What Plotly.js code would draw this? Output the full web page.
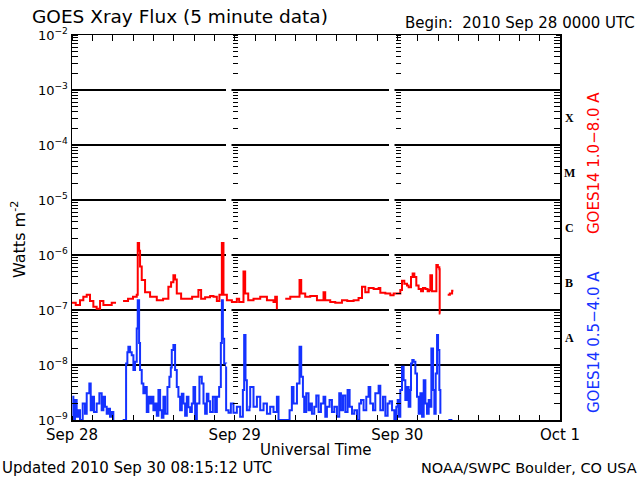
<!DOCTYPE html>
<html>
<head>
<meta charset="utf-8">
<script src="https://cdn.plot.ly/plotly-3.0.1.min.js"></script>
<style>html,body{margin:0;padding:0;background:#fff;}#chart{width:640px;height:480px;}</style>
</head>
<body>
<div id="chart"></div>
<script>
// Hours since 2010 Sep 28 00:00 UTC
const redHours = [0,0.55,1.18,1.67,2.17,2.66,3.15,3.64,4.14,4.63,5.12,5.86,6.35,6.6,
  7.53,8.27,9.0,9.55,9.7,9.9,10.04,10.29,10.78,11.52,12.51,13.44,14.22,14.62,14.96,15.21,15.46,16.1,16.94,17.72,18.65,19.05,19.64,20.38,20.87,21.37,21.75,22.11,22.35,22.85,23.59,24.32,24.66,25.3,25.55,26.0,26.78,27.77,28.76,29.73,29.98,30.23,30.6,
  31.46,32.2,33.19,33.57,33.82,34.41,35.15,36.14,36.78,37.11,37.36,38.1,38.84,39.83,40.61,41.55,42.28,42.79,43.27,43.76,44.5,45.24,45.49,46.23,46.97,47.45,47.95,48.44,48.69,49.03,49.43,49.67,50.02,50.26,50.51,50.8,51.14,51.5,51.79,52.13,52.47,52.73,52.87,53.12,53.46,53.76,53.98,54.2,54.25,54.35,55.0,
  55.43,55.75,56.08,56.27];
const redFlux = [1.35e-7,1.23e-7,1.5e-7,1.75e-7,1.9e-7,1.45e-7,1.15e-7,1.05e-7,1.45e-7,1.23e-7,1.23e-7,1.35e-7,1.3e-7,null,
  1.45e-7,1.6e-7,1.75e-7,1.9e-7,1.65e-6,1.2e-6,6.2e-7,3.5e-7,2.1e-7,1.75e-7,1.5e-7,1.6e-7,2.65e-7,3.2e-7,4.3e-7,3.6e-7,2.0e-7,1.6e-7,1.6e-7,1.75e-7,2.3e-7,1.6e-7,1.7e-7,1.8e-7,1.75e-7,1.45e-7,1.9e-7,1.65e-6,1.9e-7,1.5e-7,1.4e-7,1.6e-7,1.4e-7,5.0e-7,2.0e-7,1.5e-7,1.6e-7,1.75e-7,1.5e-7,1.4e-7,1.75e-7,1.03e-7,null,
  1.6e-7,1.75e-7,1.75e-7,3.5e-7,2.0e-7,1.75e-7,1.8e-7,1.5e-7,1.5e-7,2.1e-7,1.5e-7,1.4e-7,1.35e-7,1.5e-7,1.45e-7,1.5e-7,1.65e-7,2.65e-7,2.1e-7,2.5e-7,2.4e-7,2.5e-7,2.05e-7,2.0e-7,1.85e-7,2.0e-7,2.0e-7,2.3e-7,3.4e-7,3.0e-7,2.8e-7,2.6e-7,4.0e-7,4.6e-7,4.0e-7,2.8e-7,2.4e-7,2.2e-7,2.5e-7,2.4e-7,2.2e-7,2.3e-7,4.3e-7,2.2e-7,2.2e-7,6.6e-7,6.0e-7,5.5e-7,8.6e-8,8.6e-8,null,
  1.9e-7,2.0e-7,2.25e-7,2.25e-7];

const blueHours = [0.05,0.2,0.44,0.69,0.94,1.18,1.58,1.92,2.17,2.56,2.76,3.05,3.25,3.64,4.04,4.38,4.63,4.87,5.12,5.37,5.61,5.86,6.1,6.4,
  7.48,7.88,7.98,8.17,8.32,8.57,8.81,9.06,9.3,9.55,9.7,9.9,10.04,10.29,10.53,10.78,11.03,11.27,11.52,11.77,12.01,12.26,12.51,12.75,13.0,13.25,13.49,13.74,14.08,14.37,14.58,14.72,14.96,15.21,15.46,15.7,15.95,16.2,16.44,16.69,16.94,17.18,17.43,17.68,17.92,18.17,18.42,18.8,19.15,19.4,19.64,19.89,20.13,20.38,20.78,21.12,21.37,21.71,21.96,22.11,22.26,
  22.45,22.74,23.09,23.44,23.82,24.32,24.81,25.21,25.4,25.6,25.8,26.19,26.29,26.78,27.28,27.77,28.26,28.76,29.24,29.73,30.23,30.47,31.46,32.1,32.44,32.68,33.19,33.57,
  33.82,34.07,34.26,34.56,34.9,35.15,35.4,35.74,36.04,36.38,36.73,37.11,37.37,37.61,38.0,38.35,38.7,39.09,39.43,39.68,39.98,40.32,40.66,40.96,41.31,41.65,42.05,42.39,42.64,43.02,43.42,43.76,44.01,44.41,44.75,45.24,45.49,45.89,46.23,46.57,46.86,47.22,47.56,47.85,
  48.05,48.2,48.44,48.69,48.93,49.18,49.43,49.67,49.92,50.02,50.21,50.41,50.66,50.9,51.15,51.4,51.65,51.89,52.14,52.38,52.63,52.87,53.02,53.27,53.46,53.66,53.86,54.01,54.2,54.35,55.0,
  55.53,56.12];
const blueFlux = [2.65e-9,1e-9,2.3e-9,1.15e-9,1.5e-9,1e-9,2.0e-9,1.3e-9,3.05e-9,4.6e-9,1.5e-9,2.65e-9,1.4e-9,2.0e-9,3.05e-9,1.5e-9,2.65e-9,1.75e-9,1.3e-9,1.6e-9,1.15e-9,1.4e-9,1e-9,null,
  1e-9,1e-9,1.07e-8,1.7e-8,2.15e-8,1.7e-8,1.5e-8,8.1e-9,1.15e-8,4.6e-8,1.5e-7,2.5e-8,8.1e-9,4.6e-9,3.05e-9,4.0e-9,1.4e-9,2.65e-9,2.0e-9,2.65e-9,1.5e-9,2.0e-9,1.2e-9,3.5e-9,1.5e-9,1.1e-9,2.65e-9,1.3e-9,4.0e-9,6.1e-9,9e-9,1.87e-8,2.3e-8,8.1e-9,4.0e-9,2.65e-9,1.5e-9,3.0e-9,2.0e-9,1.2e-9,2.65e-9,1.7e-9,1.4e-9,2.0e-9,4.0e-9,1e-9,2.0e-9,6.1e-9,4.6e-9,2.0e-9,1.3e-9,3.0e-9,2.2e-9,1.4e-9,2.65e-9,1.4e-9,2.65e-9,4.0e-9,2.5e-8,1.5e-7,3e-8,
  1.07e-8,1.5e-9,1.35e-9,2.0e-9,1.35e-9,1.75e-9,1.15e-9,3.5e-9,3.5e-8,5.3e-9,1.5e-9,1.75e-9,4.0e-9,1.75e-9,2.65e-9,1.5e-9,2.0e-9,1.3e-9,1.75e-9,1.4e-9,2.65e-9,1e-9,1e-9,1.5e-9,4.0e-9,2.0e-9,4.6e-9,2.15e-8,
  6.1e-9,2.65e-9,1.4e-9,3.05e-9,1.5e-9,2.0e-9,1.3e-9,1.75e-9,2.8e-9,1.4e-9,2.0e-9,2.65e-9,1.15e-9,1.75e-9,2.3e-9,1.4e-9,1.75e-9,1.15e-9,3.05e-9,1.5e-9,2.8e-9,1.4e-9,3.5e-9,1.75e-9,1.3e-9,1.5e-9,1e-9,2.0e-9,2.3e-9,1.5e-9,2.65e-9,4.0e-9,2.0e-9,1.5e-9,3.05e-9,4.2e-9,1.5e-9,2.65e-9,1.2e-9,2.0e-9,2.2e-9,1.5e-9,1e-9,1.75e-9,
  2.3e-9,1.15e-9,3.5e-9,9.3e-9,5.3e-9,2.3e-9,4.0e-9,1.75e-9,3.5e-9,1.07e-8,1.23e-8,1.15e-8,7.0e-9,2.65e-9,1.3e-9,3.05e-9,1.15e-9,5.3e-9,2.0e-9,1.3e-9,2.3e-9,1.75e-9,2.0e-8,3.5e-9,1.3e-9,7.0e-9,3.5e-8,1.87e-8,3.5e-9,1.3e-9,null,
  1e-9,1e-9];

const dayTickHours = [0, 24, 48, 72];
const dayTickLabels = ['Sep 28', 'Sep 29', 'Sep 30', 'Oct 1'];
const decadeTicks = [1e-9, 1e-8, 1e-7, 1e-6, 1e-5, 1e-4, 1e-3, 1e-2];
const decadeLabels = ['10<sup>\u22129</sup>', '10<sup>\u22128</sup>', '10<sup>\u22127</sup>', '10<sup>\u22126</sup>', '10<sup>\u22125</sup>', '10<sup>\u22124</sup>', '10<sup>\u22123</sup>', '10<sup>\u22122</sup>'];
const flareClasses = ['X', 'M', 'C', 'B', 'A'];
const flareClassLogCenters = [-3.5, -4.5, -5.5, -6.5, -7.5];

// axis tick positions (not data): 2..9 within each decade, and 3-hour steps
const minorLogTicks = [];
decadeTicks.slice(0, -1).forEach(d => { for (let m = 2; m <= 9; m++) minorLogTicks.push(m * d); });
const minorHourTicks = [];
for (let h = 3; h < 72; h += 3) if (h % 24) minorHourTicks.push(h);

const FONT = 'DejaVu Sans, Liberation Sans, sans-serif';
const L = 72, R = 560, T = 35, B = 420;
const px = x => (x - L) / (R - L);
const py = y => (B - y) / (B - T);

const traces = [
  {x: blueHours, y: blueFlux, type: 'scatter', mode: 'lines', line: {color: '#1432ff', width: 2, shape: 'hv'}},
  {x: redHours, y: redFlux, type: 'scatter', mode: 'lines', line: {color: '#ff0000', width: 2, shape: 'hv'}}
];

// tick-only overlay axes, placed inside the frame with their ticks reaching back to it
function logTickAxis(pos, side, len) {
  return {
    type: 'log', range: [-9, -2], overlaying: 'y', anchor: 'free', position: pos, side: side,
    showline: false, showgrid: false, zeroline: false, showticklabels: false,
    tickmode: 'array', tickvals: decadeTicks,
    ticks: 'outside', ticklen: len, tickcolor: 'black', tickwidth: 1,
    minor: {tickmode: 'array', tickvals: minorLogTicks, ticks: 'outside', ticklen: len, tickcolor: 'black', tickwidth: 1, showgrid: false}
  };
}
function timeTickAxis(pos, side, len) {
  return {
    type: 'linear', range: [0, 72], overlaying: 'x', anchor: 'free', position: pos, side: side,
    showline: false, showgrid: false, zeroline: false, showticklabels: false,
    tickmode: 'array', tickvals: dayTickHours,
    ticks: 'outside', ticklen: len, tickcolor: 'black', tickwidth: 1,
    minor: {tickmode: 'array', tickvals: minorHourTicks, ticks: 'outside', ticklen: len, tickcolor: 'black', tickwidth: 1, showgrid: false}
  };
}

const annotations = [
  {text: 'GOES Xray Flux (5 minute data)', xref: 'paper', yref: 'paper', x: px(30), y: py(16), xanchor: 'left', yanchor: 'middle', showarrow: false, font: {family: FONT, size: 18.5, color: '#000'}},
  {text: 'Begin:  2010 Sep 28 0000 UTC', xref: 'paper', yref: 'paper', x: px(637), y: py(23), xanchor: 'right', yanchor: 'middle', showarrow: false, font: {family: FONT, size: 15, color: '#000'}},
  {text: 'Universal Time', xref: 'paper', yref: 'paper', x: px(316), y: py(450), xanchor: 'center', yanchor: 'middle', showarrow: false, font: {family: FONT, size: 15, color: '#000'}},
  {text: 'Updated 2010 Sep 30 08:15:12 UTC', xref: 'paper', yref: 'paper', x: px(0), y: py(468), xanchor: 'left', yanchor: 'middle', showarrow: false, font: {family: FONT, size: 15, color: '#000'}},
  {text: 'NOAA/SWPC Boulder, CO USA', xref: 'paper', yref: 'paper', x: px(639), y: py(468), xanchor: 'right', yanchor: 'middle', showarrow: false, font: {family: FONT, size: 14.5, color: '#000'}},
  {text: 'Watts m<sup>-2</sup>', xref: 'paper', yref: 'paper', x: px(18), y: py(240), xanchor: 'center', yanchor: 'middle', textangle: -90, showarrow: false, font: {family: FONT, size: 16, color: '#000'}},
  {text: 'GOES14 1.0\u22128.0 A', xref: 'paper', yref: 'paper', x: px(594), y: py(163), xanchor: 'center', yanchor: 'middle', textangle: -90, showarrow: false, font: {family: FONT, size: 15, color: '#ff0000'}},
  {text: 'GOES14 0.5\u22124.0 A', xref: 'paper', yref: 'paper', x: px(594), y: py(342), xanchor: 'center', yanchor: 'middle', textangle: -90, showarrow: false, font: {family: FONT, size: 15, color: '#1432ff'}}
];
flareClasses.forEach((c, i) => {
  annotations.push({text: '<b>' + c + '</b>', xref: 'paper', yref: 'y', x: px(569), y: flareClassLogCenters[i], xanchor: 'center', yanchor: 'middle', showarrow: false, font: {family: 'Liberation Serif, DejaVu Serif, serif', size: 12, color: '#000'}});
});

const shapes = [];
[232, 395].forEach(xp => {
  for (let k = 1; k <= 6; k++) {
    const yp = T + 55 * k;
    shapes.push({type: 'rect', xref: 'paper', yref: 'paper', x0: px(xp - 6), x1: px(xp - 0.5), y0: py(yp + 1.5), y1: py(yp - 1.5), fillcolor: '#fff', line: {width: 0}, layer: 'above'});
  }
});

const layout = {
  width: 640, height: 480,
  margin: {l: L, r: 640 - R, t: T, b: 480 - B, pad: 0},
  showlegend: false,
  font: {family: FONT, color: '#000'},
  xaxis: {
    type: 'linear', range: [0, 72],
    tickmode: 'array', tickvals: dayTickHours, ticktext: dayTickLabels,
    tickfont: {family: FONT, size: 15, color: '#000'},
    ticks: 'inside', ticklen: 5, tickcolor: 'black', tickwidth: 1,
    minor: {tickmode: 'array', tickvals: minorHourTicks, ticks: 'inside', ticklen: 5, tickcolor: 'black', tickwidth: 1, showgrid: false},
    showline: true, linecolor: '#000', linewidth: 1.5, mirror: 'ticks',
    showgrid: false, zeroline: false
  },
  yaxis: {
    type: 'log', range: [-9, -2],
    tickmode: 'array', tickvals: decadeTicks, ticktext: decadeLabels,
    tickfont: {family: FONT, size: 13, color: '#000'},
    ticks: 'inside', ticklen: 6, tickcolor: 'black', tickwidth: 1,
    minor: {tickmode: 'array', tickvals: minorLogTicks, ticks: 'inside', ticklen: 6, tickcolor: 'black', tickwidth: 1, showgrid: false},
    showline: true, linecolor: '#000', linewidth: 1.5, mirror: 'ticks',
    showgrid: true, gridcolor: '#000', gridwidth: 1.5, zeroline: false
  },
  // top and bottom 3-hour ticks: axes sit 5 px inside the frame, ticks point out to it
  xaxis2: timeTickAxis(py(40.5), 'top', 5),
  xaxis3: timeTickAxis(py(414.5), 'bottom', 5),
  // day-boundary tick columns
  yaxis2: logTickAxis(px(232), 'right', 5),
  yaxis3: logTickAxis(px(395), 'right', 5),
  // left and right frame ticks: axes sit 6 px inside the frame, ticks point out to it
  yaxis4: logTickAxis(px(77.5), 'left', 5.5),
  yaxis5: logTickAxis(px(554.5), 'right', 5.5),
  shapes: shapes,
  annotations: annotations
};

['y2', 'y3', 'y4', 'y5'].forEach(ax => traces.push({x: [0], y: [1e-9], yaxis: ax, type: 'scatter', mode: 'markers', marker: {opacity: 0}}));
['x2', 'x3'].forEach(ax => traces.push({x: [0], y: [1e-9], xaxis: ax, type: 'scatter', mode: 'markers', marker: {opacity: 0}}));

Plotly.newPlot('chart', traces, layout, {staticPlot: true, displayModeBar: false});
</script>
</body>
</html>
